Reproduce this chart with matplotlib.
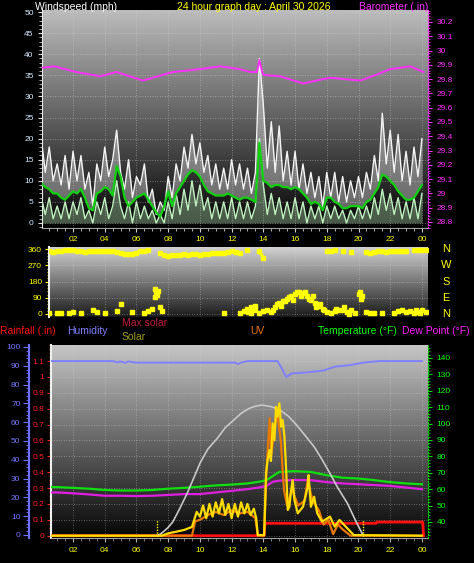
import numpy as np
import matplotlib
matplotlib.use('Agg')
import matplotlib.pyplot as plt
from matplotlib.colors import LinearSegmentedColormap
from matplotlib.ticker import MultipleLocator, FuncFormatter
import matplotlib.transforms as mtransforms

plt.rcParams['font.family'] = ['Liberation Sans', 'DejaVu Sans']

# ---------------- data ----------------
title = "24 hour graph day : April 30 2026"
hour_ticks = [2, 4, 6, 8, 10, 12, 14, 16, 18, 20, 22, 24]
hour_labels = ["02", "04", "06", "08", "10", "12", "14", "16", "18", "20", "22", "00"]

# wind (mph), quarter-hour readings
t_wind = np.arange(0, 24.01, 0.25)
gust = [20, 12, 18, 10, 14, 9, 16, 8, 17, 10, 16, 8, 12, 4, 14, 10,
        18, 11, 15, 22, 12, 8, 15, 6, 11, 9, 14, 5, 8, 2, 5, 3,
        11, 6, 14, 10, 18, 13, 21, 14, 19, 12, 16, 9, 14, 8, 13, 8,
        15, 9, 14, 8, 13, 7, 12, 39, 28, 13, 24, 12, 23, 10, 17, 9,
        17, 8, 14, 7, 12, 6, 11, 4, 12, 6, 12, 5, 11, 5, 10, 6,
        11, 6, 12, 8, 16, 10, 26, 14, 22, 12, 21, 10, 17, 9, 18, 11, 20]
wind = [6, 2, 6, 1, 4, 1, 5, 1, 5, 2, 6, 1, 3, 0, 5, 2,
        6, 1, 4, 10, 4, 1, 5, 0, 5, 1, 4, 1, 3, 0, 2, 0,
        5, 1, 7, 2, 8, 3, 10, 4, 9, 3, 6, 1, 5, 1, 5, 1,
        6, 1, 5, 1, 5, 1, 4, 20, 9, 2, 7, 2, 6, 1, 5, 1,
        6, 1, 5, 0, 4, 1, 4, 0, 4, 1, 4, 1, 3, 0, 3, 1,
        4, 1, 4, 1, 6, 2, 8, 3, 7, 2, 6, 1, 5, 1, 6, 1, 7]
wind_avg = [9.5, 8.5, 8, 7, 7, 6, 5.5, 6.5, 7.5, 7, 8, 6, 3.5, 3, 7, 7.5,
            8.5, 8, 6.5, 13.5, 11, 6, 4, 5, 6, 6.5, 7, 5.5, 4, 2.5, 1.5, 4,
            7.5, 4, 7, 8.5, 10, 11.5, 12.5, 12, 11, 9, 7.5, 7, 6.5, 6.5, 6.5, 7,
            6.5, 6, 5.5, 6, 6, 5.5, 5, 19, 10, 9.5, 8.5, 9, 9, 8.5, 8.5, 8,
            8.5, 8, 7, 6, 4.5, 5, 4.5, 3, 6, 6, 5, 4.5, 3.5, 3.5, 4, 4,
            4, 3.5, 5, 5.5, 7, 8.5, 11.5, 11, 10, 9, 7.5, 6.5, 5.5, 5.5, 6, 7.5, 9]

baro_h = [0.1, 0.8, 2.2, 3.7, 4.75, 6.4, 8.3, 10.0, 11.3, 11.9, 12.5, 13.2, 13.6, 13.75,
          13.9, 14.0, 15.05, 16.5, 18.2, 20.1, 21.1, 22.0, 23.25, 24.1]
baro = [29.88, 29.89, 29.85, 29.82, 29.85, 29.79, 29.85, 29.87, 29.89, 29.88, 29.87, 29.85,
        29.85, 29.935, 29.86, 29.83, 29.82, 29.77, 29.81, 29.79, 29.83, 29.87, 29.89, 29.85]

# wind direction (degrees), quarter-hour from 00:30
t_dir = np.arange(0.5, 24.26, 0.25)
nan = np.nan
dir_hi = [348, 345, 350, 352, 355, 356, 354, 352, 350, 346, 350, 352, 350, 348, 350, 352,
          350, 345, 340, 335, 332, 336, 342, 348, 352, 356,
          nan, nan, 340, 330, 322, 326, 330, 328, 332, 330, 332, 334, 330, 335, 336, 338,
          340, 338, 342, 345, 350, 345, 338,
          nan, 355, nan, nan, 352, 310, nan, nan, nan, nan, nan, nan, nan, nan, nan, nan,
          nan, nan, nan, nan, nan, 352, 348, 355, nan, 350, nan, 345, nan, nan, nan, 345,
          340, 345, 350, 348, 345, 350, 348, 352, 348, 352, nan, 355, 356, 355, 356]
dir_lo = [5, nan, 3, 8, nan, 5, 10, nan, 5, nan, nan, 25, 10, nan, 5, nan,
          nan, 15, 55, nan, nan, 10, nan, nan, 5, 15,
          30, 120, 40, nan, nan, nan, nan, nan, nan, nan, nan, nan, nan, nan, nan, nan,
          nan, nan, 8, nan, nan, nan, 5,
          15, 30, 40, 20, 5, 15, 20, 10, 40, 60, 70, 85, 100, 110, 120, 115,
          100, 80, 60, 45, 30, 10, 5, 15, 20, 25, 10, 20, 5, 110, 100, 10,
          5, 3, nan, 5, nan, nan, 8, 15, 25, 10, 15, 5, 12, 20, 10]
dir_x_h = [7.15, 7.2, 7.3, 7.35, 7.6, 13.05, 13.2, 13.35, 13.45, 14.6, 14.85, 15.1, 15.35,
           15.6, 15.85, 16.1, 16.35, 16.6, 16.85, 17.1, 17.35, 17.6, 17.85, 18.6, 19.1, 19.4,
           20.1, 20.15, 23.6, 23.9]
dir_x_d = [95, 140, 105, 130, 15, 10, 5, 35, 45, 20, 55, 45, 70, 95, 80, 125, 100, 125,
           85, 100, 40, 55, 20, 30, 40, 0, 125, 85, 25, 5]
dir_ticks = [0, 90, 180, 270, 360]
compass_deg = [360, 270, 180, 90, 0]
compass_lab = ["N", "W", "S", "E", "N"]

# bottom panel
temp_h = [0, 1, 2, 3, 4, 5, 6, 7, 8, 9, 10, 11, 12, 13, 13.7, 14.2, 14.6, 15.0,
          16, 17, 18, 19, 20, 21, 22, 23, 24]
temp = [61.3, 61.3, 60.8, 60.3, 59.5, 59.2, 59.2, 59.5, 60.3, 60.8, 61.5, 62.3, 62.8, 63.5,
        64.5, 65.5, 68, 70.5, 71, 70.5, 68.5, 67, 66.5, 65.5, 64.3, 63.5, 63]
dew = [58, 58, 57.5, 56.8, 56, 56, 55.8, 56, 56.5, 57, 57, 58, 59, 60,
       61, 62, 64.5, 65.2, 65.6, 65.5, 64.3, 63.5, 63, 62.5, 62, 61, 60]
hum_h = [0, 4.5, 4.8, 5.0, 5.3, 5.5, 6.0, 12.2, 12.4, 12.6, 13.0, 14.9, 15.2, 15.45,
         15.8, 16.5, 17.2, 17.8, 18.5, 19.5, 20.3, 21.3, 24.0]
hum = [92.5, 92.5, 91.8, 92.3, 91.6, 92.3, 91.7, 91.7, 91.0, 91.7, 92.5, 92.5, 88, 84,
       86, 86.3, 86.9, 87.5, 89.5, 90.4, 91.7, 92.5, 92.5]
rain_h = [0, 14.05, 14.1, 21.1, 21.15, 24.05, 24.1]
rain = [0, 0, 0.078, 0.078, 0.086, 0.086, 0]
maxsol_h = [7.3, 7.5, 7.7, 8.0, 8.3, 8.7, 9.2, 9.6, 10.0, 10.5, 11.1, 11.6, 12.1, 12.6,
            13.1, 13.5, 13.9, 14.5, 15.05, 15.6, 16.1, 16.6, 17.2, 17.7, 18.2, 18.7,
            19.3, 19.6, 19.9, 20.3]
maxsol = [0, 10, 25, 52, 88, 165, 267, 360, 455, 545, 613, 680, 725, 770,
          801, 815, 822, 812, 791, 750, 696, 635, 560, 480, 392, 300,
          204, 140, 78, 0]
solar_h = [0, 7.6, 8.0, 8.5, 9.0, 9.5, 9.8, 10.0, 10.2, 10.4, 10.6, 10.8, 11.0, 11.2, 11.4,
           11.6, 11.8, 12.0, 12.2, 12.4, 12.6, 12.8, 13.0, 13.2, 13.4, 13.55, 13.65, 14.05,
           14.17, 14.27, 14.38, 14.48, 14.59, 14.7, 14.8, 14.9, 15.01, 15.12, 15.22, 15.33,
           15.43, 15.54, 15.64, 15.75, 15.85, 15.96, 16.17, 16.5, 16.8, 16.85, 17.0, 17.2,
           17.4, 17.7, 18.2, 18.5, 18.8, 19.1, 19.5, 19.7, 24]
solar = [0, 0, 15, 25, 36, 55, 150, 120, 190, 110, 200, 120, 210, 140, 230, 130, 200, 110,
         200, 120, 210, 140, 200, 130, 170, 111, 4, 4, 392, 476, 539, 470, 707, 600, 811,
         749, 833, 686, 728, 623, 434, 162, 182, 287, 350, 225, 141, 182, 308, 382, 182,
         245, 141, 88, 120, 57, 99, 67, 25, 4, 0]
uv_h = [0, 9.5, 9.7, 10.0, 10.5, 11.0, 11.5, 12.0, 12.5, 13.0, 13.5, 13.65, 14.05, 14.2,
        14.4, 14.5, 14.7, 14.9, 15.1, 15.3, 15.5, 15.8, 16.2, 16.6, 16.8, 17.1, 17.5, 17.8,
        18.1, 18.4, 18.7, 19.0, 19.5, 24]
uv = [0, 0, 0.9, 1.0, 1.3, 1.5, 1.3, 1.6, 1.4, 1.5, 1.1, 0, 0, 4.1, 7.4, 5.1, 6.8, 7.6, 6.0,
      2.9, 1.9, 2.9, 1.9, 2.2, 3.5, 2.2, 1.6, 0.7, 1.0, 0.1, 0.7, 0.4, 0, 0]
sun_times = [7.27, 20.26]

# ---------------- layout helpers ----------------
W, H = 474, 563
fig = plt.figure(figsize=(W / 100, H / 100), dpi=100, facecolor='black')


def box(x0, y0, x1, y1):
    return [x0 / W, 1 - y1 / H, (x1 - x0) / W, (y1 - y0) / H]


def hx(px):
    return (px - 41.3) / 15.86


def gradient(ax, top, bottom):
    g = np.linspace(0, 1, 256).reshape(-1, 1)
    cmap = LinearSegmentedColormap.from_list('g', [top, bottom])
    ax.imshow(g, aspect='auto', cmap=cmap, extent=[0, 1, 0, 1],
              transform=ax.transAxes, zorder=0, interpolation='bilinear')


gfmt = FuncFormatter(lambda v, p: f'{v:g}')
TS = 6
DOT = (0, (1, 2))

# ---------------- top panel: wind + barometer ----------------
axW = fig.add_axes(box(42, 10, 428, 228))
gradient(axW, '#bcbcbc', '#030303')
axW.fill_between(t_wind, wind_avg, gust, color='#f4f4f4', alpha=0.38, lw=0, zorder=2)
axW.plot(t_wind, gust, color='#f4f4f4', lw=1.0, zorder=3)
axW.fill_between(t_wind, 0, wind, color='#c0f2c0', alpha=0.35, lw=0, zorder=3)
axW.plot(t_wind, wind, color='#c0f2c0', lw=1.0, zorder=4)
axW.plot(t_wind, wind_avg, color='#10d010', lw=1.6, zorder=5)
axW.set_xlim(hx(42), hx(428))
axW.set_ylim(-1.2, 50.5)
axW.set_xticks(hour_ticks)
axW.set_xticklabels(hour_labels)
axW.xaxis.set_minor_locator(MultipleLocator(0.5))
axW.set_yticks(range(0, 51, 5))
axW.yaxis.set_minor_locator(MultipleLocator(1))
axW.tick_params(axis='x', colors='#d0d0d0', labelcolor='#ffff00', labelsize=TS, length=3, pad=3)
axW.tick_params(axis='y', colors='#e0e0e0', labelcolor='#d4eaff', labelsize=TS, length=3, pad=3)
axW.tick_params(which='minor', length=2, colors='#c8c8c8')
axW.grid(True, color='#d8d8d8', ls=DOT, lw=0.6, alpha=0.55, zorder=1)
for s in ['top', 'right']:
    axW.spines[s].set_visible(False)
axW.spines['left'].set_color('#e8e8e8')
axW.spines['bottom'].set_color('#a0a0a0')

axP = axW.twinx()
axP.plot(baro_h, baro, color='#ff30ff', lw=1.4, zorder=6)
axP.set_ylim(28.758, 30.284)
axP.set_yticks(np.round(np.arange(28.8, 30.21, 0.1), 1))
axP.yaxis.set_major_formatter(gfmt)
axP.yaxis.set_minor_locator(MultipleLocator(0.02))
axP.tick_params(axis='y', colors='#ff30ff', labelsize=TS, length=3, pad=3)
axP.tick_params(which='minor', length=1.5, colors='#ff30ff')
for s in ['top', 'left', 'bottom']:
    axP.spines[s].set_visible(False)
axP.spines['right'].set_color('#ff30ff')
axP.spines['right'].set_linestyle(':')

fig.text(35 / W, 1 - 7 / H, "Windspeed (mph)", color='white', fontsize=7.5, ha='left', va='center')
fig.text(254 / W, 1 - 7 / H, title, color='#ffff00', fontsize=7.5, ha='center', va='center')
fig.text(428 / W, 1 - 7 / H, "Barometer (.in)", color='#ff30ff', fontsize=7.5, ha='right', va='center')

# ---------------- middle panel: wind direction ----------------
axD = fig.add_axes(box(49, 247, 428, 317))
gradient(axD, '#d2d2d2', '#1a1a1a')
axD.plot(t_dir, dir_hi, color='#ffff00', lw=2.2, marker='s', ms=2.2, mec='#ffff00', zorder=3)
axD.plot(t_dir, dir_lo, ls='none', marker='s', ms=2.4, color='#ffff00', zorder=3)
axD.plot(dir_x_h, dir_x_d, ls='none', marker='s', ms=2.4, color='#ffff00', zorder=3)
axD.set_xlim(hx(49), hx(428))
axD.set_ylim(-16.7, 372.8)
axD.set_yticks(dir_ticks)
axD.yaxis.set_minor_locator(MultipleLocator(18))
axD.set_xticks(hour_ticks)
axD.set_xticklabels([])
axD.tick_params(axis='x', length=0)
axD.tick_params(axis='y', colors='#ffff00', labelsize=TS, length=3, pad=2)
axD.tick_params(axis='y', which='minor', length=1.5, colors='#ffff00')
axD.grid(True, color='#d8d8d8', ls=DOT, lw=0.6, alpha=0.5, zorder=1)
for s in ['top', 'right', 'bottom']:
    axD.spines[s].set_visible(False)
axD.spines['left'].set_color('#f0f0f0')
axD.spines['left'].set_linewidth(1.5)
trans = mtransforms.blended_transform_factory(axD.transAxes, axD.transData)
for d, lab in zip(compass_deg, compass_lab):
    axD.text(1.0475, d, lab, transform=trans, color='#ffff00', fontsize=8,
             ha='center', va='center', clip_on=False)

# ---------------- bottom panel ----------------
axB = fig.add_axes(box(51, 345, 428, 538))
gradient(axB, '#c6c6c6', '#040404')
axB.plot(rain_h, rain, color='#ff1010', lw=2.0, zorder=3)
axB.set_xlim(hx(51), hx(428))
axB.set_ylim(-0.0145, 1.2009)
axB.set_yticks(np.round(np.arange(0, 1.11, 0.1), 1))
axB.yaxis.set_major_formatter(gfmt)
axB.yaxis.set_minor_locator(MultipleLocator(0.025))
axB.set_xticks(hour_ticks)
axB.set_xticklabels(hour_labels)
axB.xaxis.set_minor_locator(MultipleLocator(0.5))
axB.tick_params(axis='x', colors='#b0b0b0', labelcolor='#ffff00', labelsize=TS, length=3, pad=3.5)
axB.tick_params(axis='x', which='minor', length=2, colors='#909090')
axB.tick_params(axis='y', colors='#ff2020', labelsize=TS, length=3, pad=2)
axB.tick_params(axis='y', which='minor', length=1.5, colors='#ff2020')
axB.grid(True, color='#d8d8d8', ls=DOT, lw=0.6, alpha=0.5, zorder=1)
for s in ['top', 'right']:
    axB.spines[s].set_visible(False)
axB.spines['left'].set_color('#f0f0f0')
axB.spines['left'].set_linewidth(1.5)
axB.spines['bottom'].set_color('#a0a0a0')

axH = axB.twinx()
axH.plot(hum_h, hum, color='#8080ff', lw=1.4)
axH.set_ylim(-1.6, 101.06)
axH.yaxis.set_ticks_position('left')
axH.yaxis.set_label_position('left')
axH.spines['left'].set_position(('outward', 16))
axH.spines['left'].set_visible(True)
axH.spines['left'].set_color('#7070ff')
axH.spines['left'].set_linewidth(1.5)
for s in ['top', 'right', 'bottom']:
    axH.spines[s].set_visible(False)
axH.set_yticks(range(0, 101, 10))
axH.yaxis.set_minor_locator(MultipleLocator(2))
axH.tick_params(axis='y', colors='#7070ff', labelcolor='#7878ff', labelsize=TS, length=4, pad=2)
axH.tick_params(axis='y', which='minor', length=2, colors='#7070ff')

axT = axB.twinx()
axT.plot(temp_h, temp, color='#10e010', lw=1.6)
axT.plot(temp_h, dew, color='#e020e0', lw=1.6)
axT.set_ylim(30.24, 147.9)
axT.set_yticks(range(40, 141, 10))
axT.yaxis.set_minor_locator(MultipleLocator(2))
axT.tick_params(axis='y', colors='#00e000', labelcolor='#00ff00', labelsize=TS, length=3, pad=3)
axT.tick_params(axis='y', which='minor', length=1.5, colors='#00e000')
for s in ['top', 'left', 'bottom']:
    axT.spines[s].set_visible(False)
axT.spines['right'].set_color('#00e000')
axT.spines['right'].set_linestyle(':')

axU = axB.twinx()
axU.plot(uv_h, uv, color='#e87800', lw=1.6)
axU.set_ylim(-0.145, 12)
axU.axis('off')

axS = axB.twinx()
axS.plot(maxsol_h, maxsol, color='#c8c8c8', lw=1.2)
axS.vlines(sun_times, 0, 100, colors='#ffff00', linestyles=(0, (1, 1)), lw=1.0)
axS.plot(solar_h, solar, color='#ffdc00', lw=1.6)
axS.set_ylim(-14.5, 1200)
axS.axis('off')

hy = 331
fig.text(0, 1 - hy / H, "Rainfall (.in)", color='#ff1010', fontsize=7.5, ha='left', va='center')
fig.text(67 / W, 1 - hy / H, "Humidity", color='#8080ff', fontsize=7.5, ha='left', va='center')
fig.text(122 / W, 1 - 323 / H, "Max solar", color='#c0203c', fontsize=7.5, ha='left', va='center')
fig.text(122 / W, 1 - 337 / H, "Solar", color='#a0a020', fontsize=7.5, ha='left', va='center')
fig.text(250 / W, 1 - hy / H, "UV", color='#f07800', fontsize=7.5, ha='left', va='center')
fig.text(318 / W, 1 - hy / H, "Temperature (°F)", color='#00ff00', fontsize=7.5, ha='left', va='center')
fig.text(402 / W, 1 - hy / H, "Dew Point (°F)", color='#ff20ff', fontsize=7.5, ha='left', va='center')

fig.savefig('out.png', dpi=100, facecolor='black')
